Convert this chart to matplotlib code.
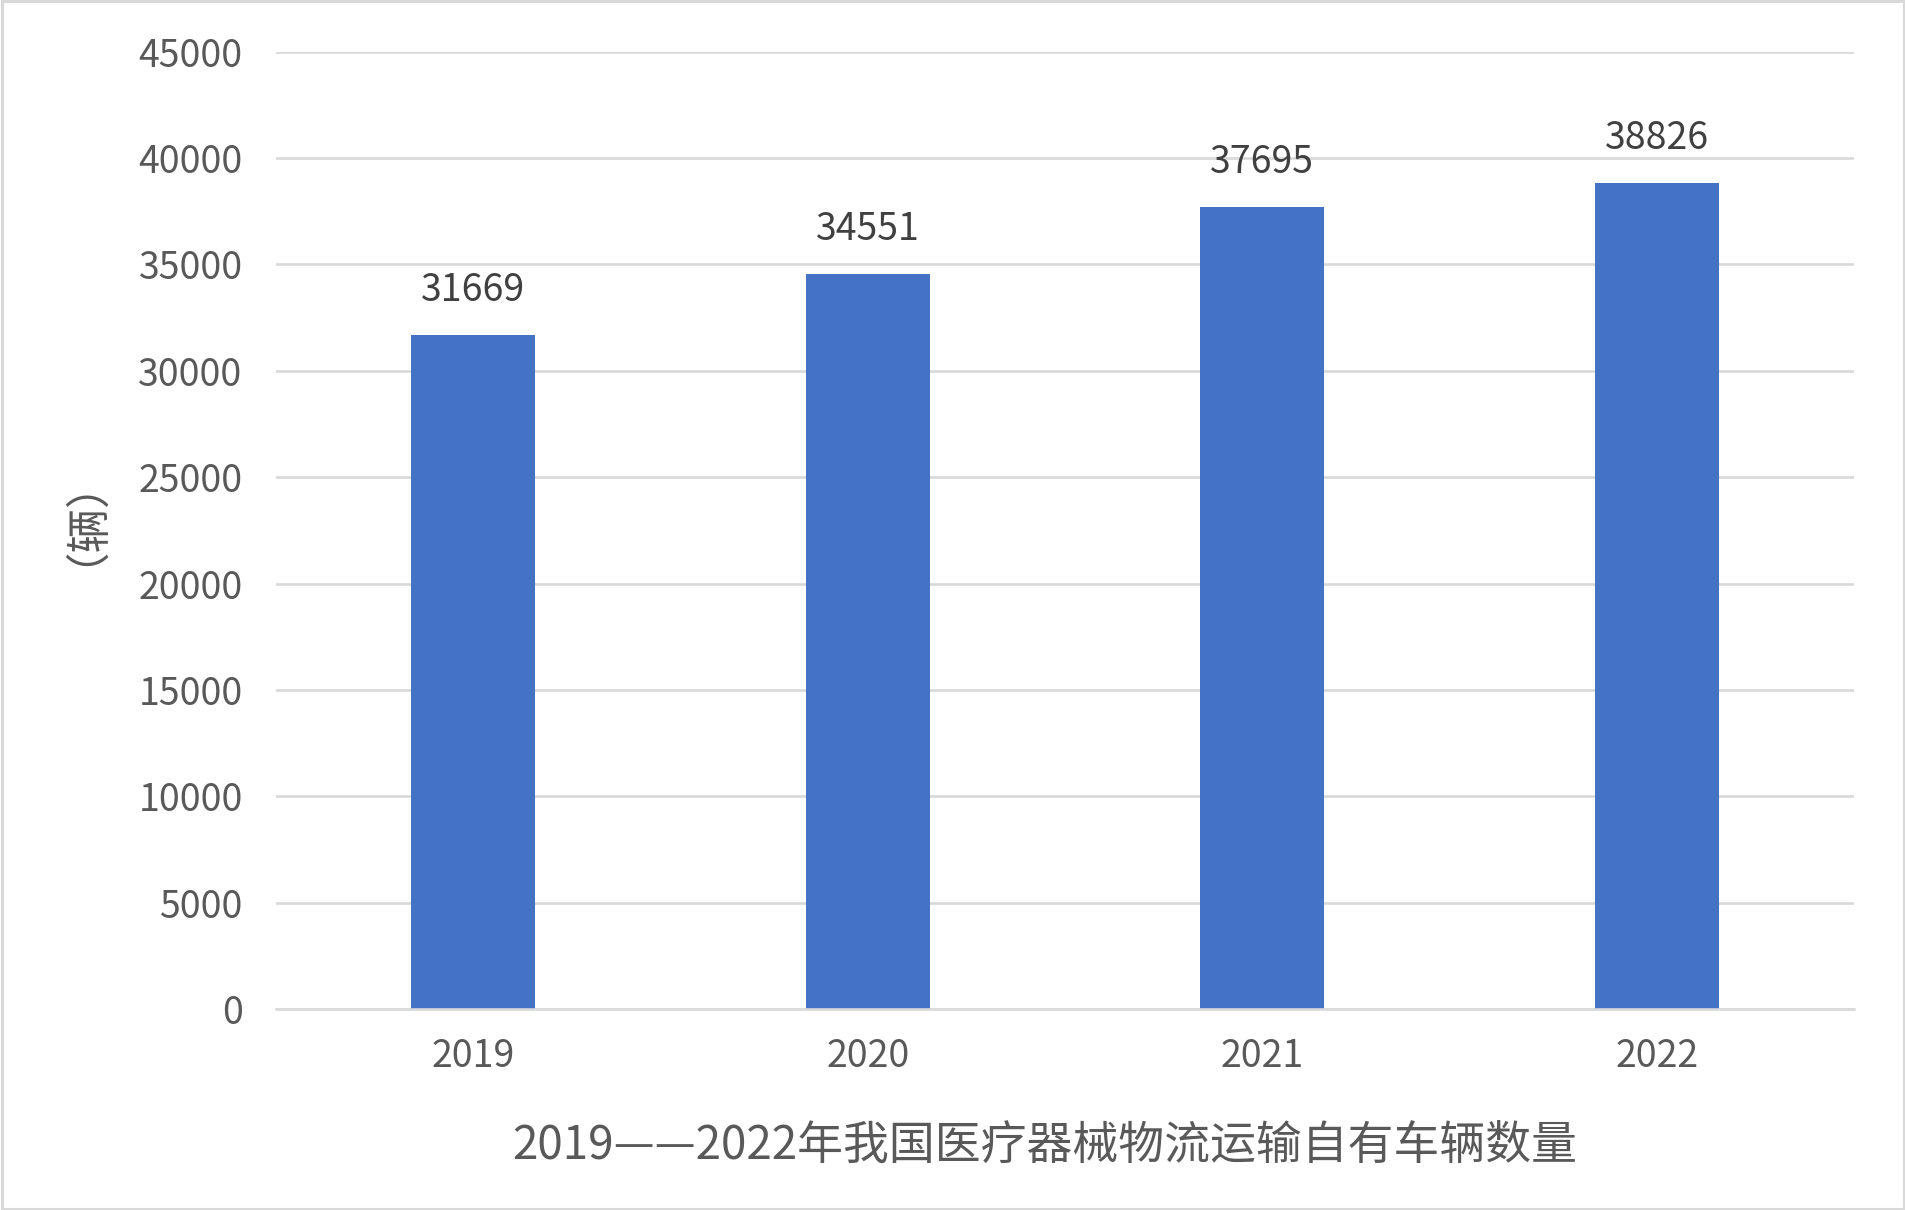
import matplotlib
matplotlib.use("Agg")
import matplotlib.pyplot as plt
from matplotlib.patches import Rectangle

plt.rcParams['font.family'] = ['Noto Sans CJK SC', 'DejaVu Sans']

years = ['2019', '2020', '2021', '2022']
vehicles = [31669, 34551, 37695, 38826]
yticks = [0, 5000, 10000, 15000, 20000, 25000, 30000, 35000, 40000, 45000]
title = '2019——2022年我国医疗器械物流运输自有车辆数量'
ylabel = '（辆）'

W, H = 1906, 1210
fig = plt.figure(figsize=(W / 100, H / 100), dpi=100)
ax = fig.add_axes([276 / W, 1 - 1009 / H, (1854 - 276) / W, (1009 - 51.7) / H])

x = list(range(len(years)))
bars = ax.bar(x, vehicles, width=0.315, color='#4472C4', zorder=3)

ax.set_xlim(-0.5, len(years) - 0.5)
ax.set_ylim(0, 45000)
ax.set_yticks(yticks)
ax.set_yticklabels([str(v) for v in yticks])
ax.set_xticks(x)
ax.set_xticklabels(years)

ax.grid(axis='y', color='#D9D9D9', linewidth=1.9, zorder=0)
for s in ['top', 'right', 'left']:
    ax.spines[s].set_visible(False)
ax.spines['bottom'].set_color('#D9D9D9')
ax.spines['bottom'].set_linewidth(1.9)
ax.spines['bottom'].set_zorder(4)

ax.tick_params(axis='both', length=0, labelsize=27, labelcolor='#595959')
ax.tick_params(axis='y', pad=24)
ax.tick_params(axis='x', pad=20)

for xi, v in zip(x, vehicles):
    ax.annotate(str(v), (xi, v), xytext=(0, 32), textcoords='offset points',
                ha='center', va='center', fontsize=27, color='#404040')

fig.text(60.5 / W, 1 - 499 / H, ylabel, rotation=90, ha='center', va='center',
         fontsize=32, color='#595959')
fig.text(1045 / W, 1 - 1146 / H, title, ha='center', va='center',
         fontsize=33, color='#595959')

fig.patches.append(Rectangle((0.0008, 0.0012), 0.9984, 0.9976, transform=fig.transFigure,
                             fill=False, edgecolor='#D9D9D9', linewidth=2.2))

fig.savefig('out.png', dpi=100)
